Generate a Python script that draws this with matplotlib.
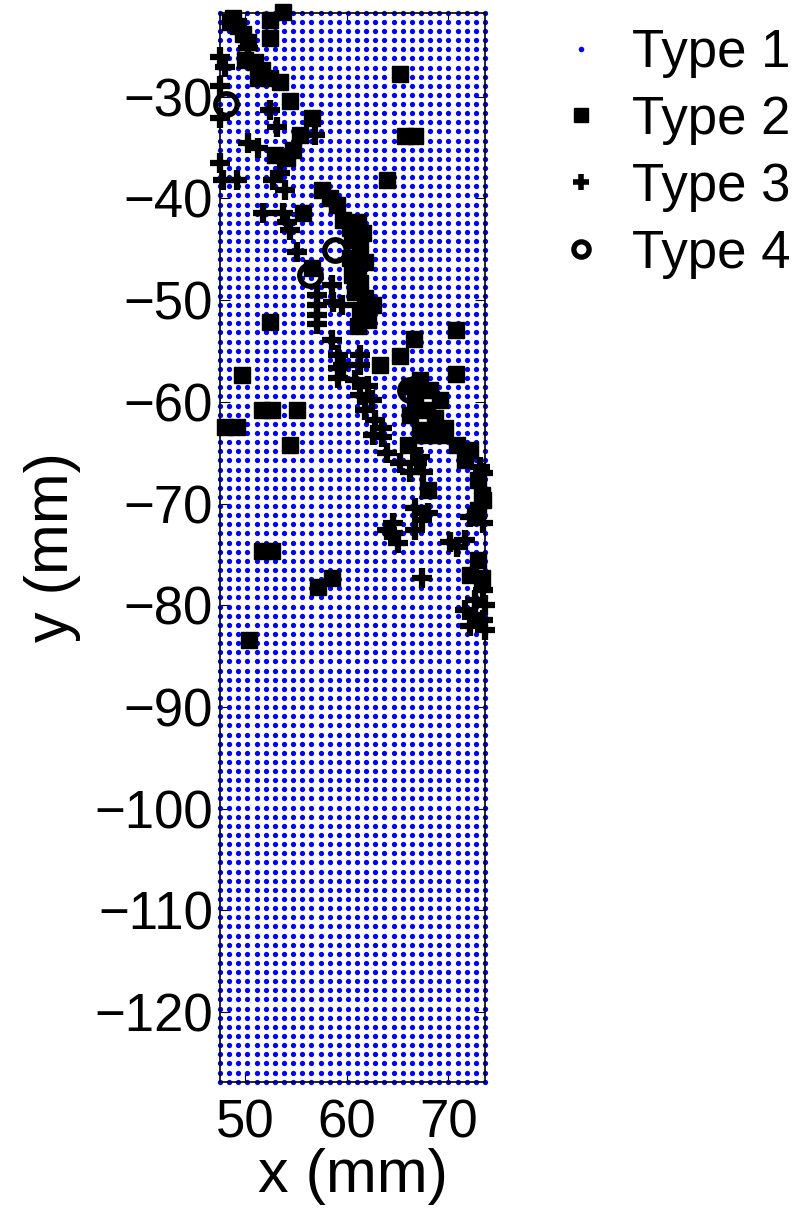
import numpy as np
import matplotlib
matplotlib.use("Agg")
import matplotlib.pyplot as plt

plt.rcParams['font.family'] = ['Liberation Sans', 'DejaVu Sans']

# Type 1: regular measurement grid (mm)
grid_x_start, grid_x_stop, grid_x_count = 47.54, 73.6, 30
grid_y_start, grid_y_stop, grid_y_count = -21.74, -126.85, 118

# Type 2 points (mm)
type2_x = [48.8, 49.3, 49.8, 50.3, 48.5, 52.5, 52.5, 53.7, 51.0, 50.0,
           51.7, 51.3, 52.5, 53.4, 54.4, 56.6, 55.4, 54.7, 54.1, 52.9,
           57.6, 58.4, 59.0, 55.7, 65.2, 65.7, 66.7, 64.0,
           59.6, 60.3, 61.1, 61.6, 60.5, 61.3, 60.3, 61.1, 61.8, 60.5,
           61.3, 60.8, 61.8, 62.6, 61.3, 62.1, 61.1, 56.6,
           52.5, 49.7, 51.7, 52.7, 55.1, 48.0, 49.2, 54.4,
           66.6, 70.7, 65.2, 63.3, 70.7,
           66.2, 67.2, 68.2, 69.2, 66.7, 67.7, 68.7, 69.7, 66.2, 67.2,
           66.0, 67.7, 69.2, 70.8, 72.1, 71.6, 68.0,
           72.9, 73.3, 72.9, 73.4, 72.9, 72.1, 73.3,
           51.7, 52.7, 57.2, 58.6, 50.4]
type2_y = [-22.3, -23.0, -23.8, -24.6, -22.7, -22.5, -24.2, -21.7, -26.6, -26.4,
           -27.4, -28.2, -28.2, -28.6, -30.4, -32.1, -33.8, -35.2, -36.0, -35.7,
           -39.2, -40.0, -40.6, -41.4, -27.8, -33.9, -33.9, -38.2,
           -42.1, -42.9, -42.3, -43.4, -44.1, -44.9, -45.9, -46.6, -46.3, -47.5,
           -48.3, -49.2, -49.8, -50.5, -51.0, -52.0, -52.5, -46.8,
           -52.2, -57.4, -60.8, -60.8, -60.8, -62.5, -62.5, -64.2,
           -53.8, -52.9, -55.5, -56.4, -57.3,
           -58.4, -57.9, -58.8, -59.8, -59.8, -60.8, -61.6, -62.6, -61.3, -62.8,
           -64.2, -63.3, -63.3, -64.2, -64.7, -65.7, -68.7,
           -67.7, -69.2, -70.6, -69.7, -75.6, -77.0, -77.3,
           -74.7, -74.7, -78.2, -77.3, -83.4]

# Type 3 points (mm)
type3_x = [50.3, 47.5, 48.0, 47.5, 47.5, 52.5, 53.1, 50.3, 51.3, 56.9,
           47.5, 47.8, 49.2, 52.8, 53.4, 53.9, 51.8, 53.7, 54.1, 54.4,
           55.1, 58.6, 57.1, 57.1, 58.7, 59.5, 57.1, 57.1, 58.6, 59.1,
           59.6, 59.1, 59.1, 61.3, 61.3, 60.8, 62.1, 61.3, 62.5, 61.8,
           62.8, 63.5, 62.6, 63.5, 64.0, 65.2, 66.9, 67.2, 66.2, 67.5,
           73.1, 73.4, 66.7, 68.0, 67.4, 66.7, 64.6, 64.6, 65.0, 64.0,
           70.2, 70.8, 71.6, 72.1, 73.4, 67.4,
           73.4, 72.6, 73.6, 71.6, 72.6, 73.4, 72.1, 73.6]
type3_y = [-25.2, -26.1, -27.1, -28.9, -32.1, -31.3, -33.0, -34.6, -35.0, -33.8,
           -36.5, -38.2, -38.2, -38.2, -37.5, -39.2, -41.4, -41.4, -42.3, -43.1,
           -45.3, -48.5, -49.5, -50.5, -50.2, -50.5, -51.5, -52.3, -53.9, -55.4,
           -56.4, -56.7, -57.7, -55.4, -56.4, -57.9, -58.4, -59.3, -59.8, -60.8,
           -61.8, -62.6, -63.3, -63.5, -65.0, -66.0, -66.0, -65.4, -66.9, -66.9,
           -66.4, -67.0, -70.4, -70.9, -71.6, -72.6, -71.9, -72.9, -73.9, -72.6,
           -73.8, -74.3, -73.6, -71.3, -71.9, -77.3,
           -78.5, -79.5, -80.0, -80.5, -81.0, -81.5, -82.0, -82.4]

# Type 4 points (mm)
type4_x = [48.1, 58.8, 56.4, 66.2, 68.0]
type4_y = [-30.7, -45.1, -47.5, -58.8, -59.6]

xticks = [50, 60, 70]
yticks = [-120, -110, -100, -90, -80, -70, -60, -50, -40, -30]

fig = plt.figure(figsize=(8.02, 12.15), dpi=100)
ax = fig.add_axes([220 / 802, 1 - 1081.7 / 1215, 265 / 802, 1069 / 1215])

gx, gy = np.meshgrid(np.linspace(grid_x_start, grid_x_stop, grid_x_count),
                     np.linspace(grid_y_start, grid_y_stop, grid_y_count))
ax.plot(gx.ravel(), gy.ravel(), 'o', color='blue', markersize=3.8,
        markeredgewidth=0, clip_on=False, label='Type 1')
ax.plot(type2_x, type2_y, 's', color='black', markersize=11.5,
        clip_on=False, label='Type 2')
ax.plot(type3_x, type3_y, '+', color='black', markersize=14,
        markeredgewidth=4.5, clip_on=False, label='Type 3')
ax.plot(type4_x, type4_y, 'o', color='black', markerfacecolor='none',
        markersize=15.5, markeredgewidth=3.8, clip_on=False, label='Type 4')

ax.set_xlim(47.54, 73.6)
ax.set_ylim(-126.85, -21.74)
ax.set_xticks(xticks)
ax.set_yticks(yticks)
ax.tick_params(direction='in', length=7, width=0.8, top=True, right=True,
               labelsize=38)
ax.tick_params(axis='y', pad=5)
ax.tick_params(axis='x', pad=12)
for s in ax.spines.values():
    s.set_linewidth(1.2)

ax.set_xlabel('x (mm)', fontsize=44, labelpad=0)
ax.set_ylabel('y (mm)', fontsize=44, labelpad=10)

leg = fig.legend(loc='upper left', bbox_to_anchor=(555 / 802, 1 - 28 / 1215),
                 frameon=False, fontsize=38, handlelength=1.0, handletextpad=0.45,
                 labelspacing=0.32, borderaxespad=0, borderpad=0)
leg.legend_handles[0].set_markersize(4)
leg.legend_handles[1].set_markersize(10)
leg.legend_handles[2].set_markersize(11)
leg.legend_handles[2].set_markeredgewidth(4)
leg.legend_handles[3].set_markersize(11)

fig.savefig('out.png', dpi=100)
